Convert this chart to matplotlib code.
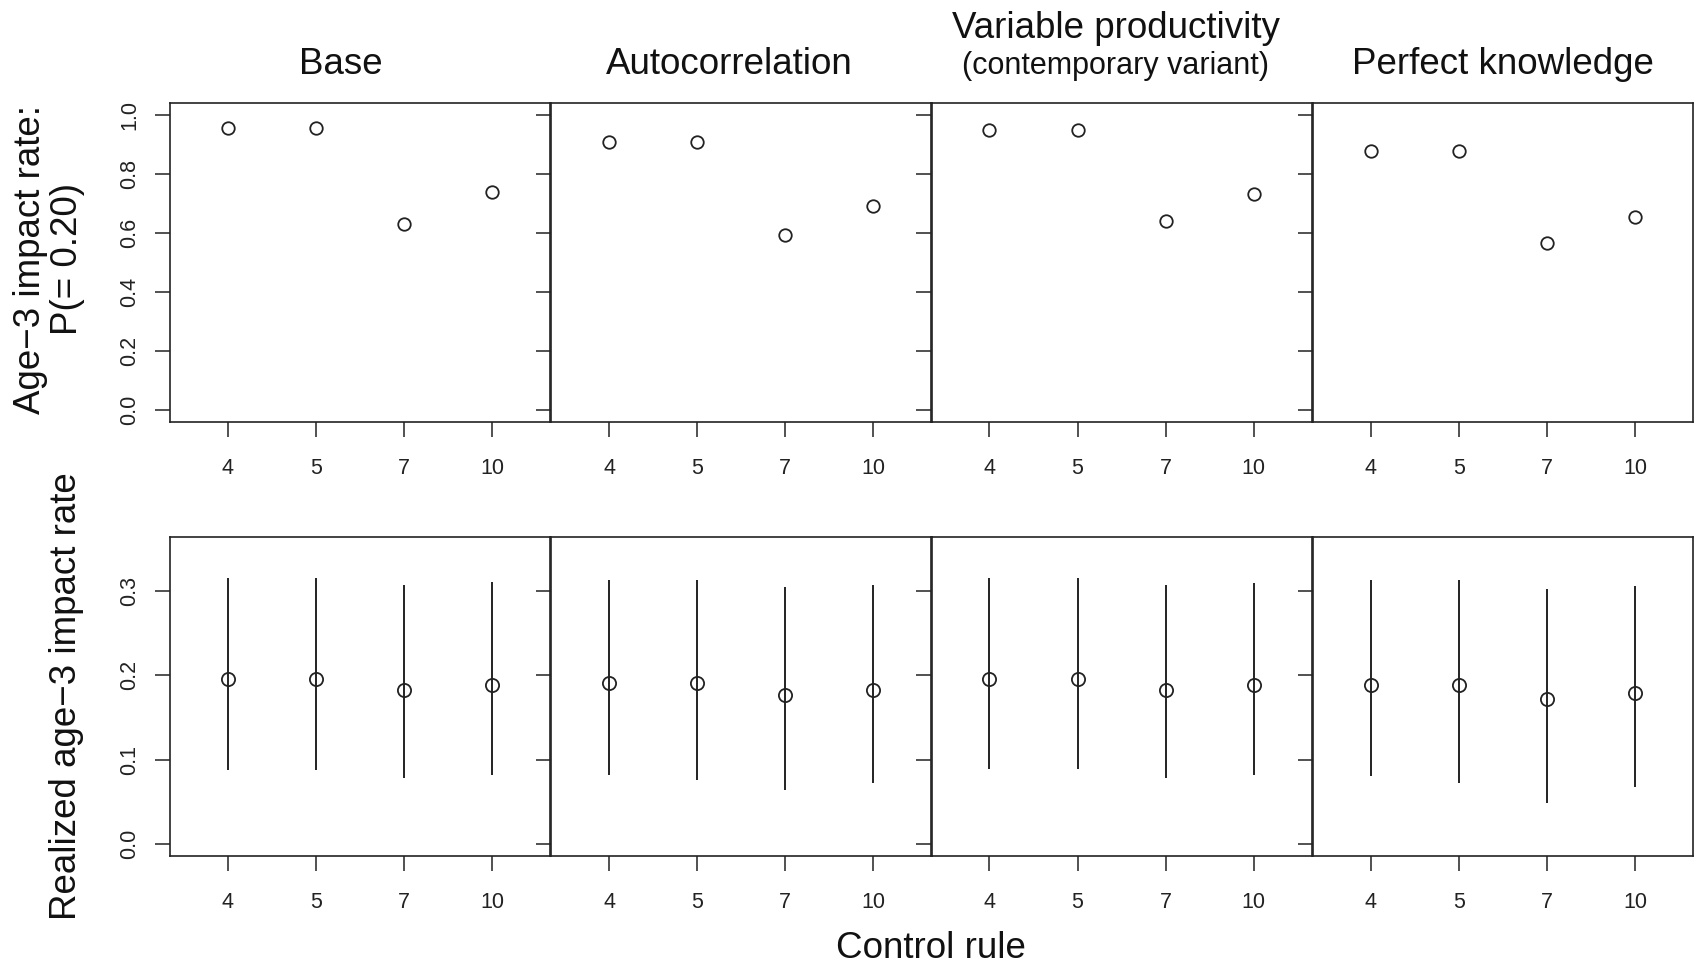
import matplotlib
matplotlib.use("Agg")
import matplotlib.pyplot as plt

plt.rcParams["font.family"] = ["Liberation Sans", "DejaVu Sans"]

# data
rules = ["4", "5", "7", "10"]
scenarios = ["Base", "Autocorrelation", "Variable productivity", "Perfect knowledge"]

# top row: P(age-3 impact rate <= 0.20)
p_ok = [
    [0.953, 0.953, 0.628, 0.738],
    [0.907, 0.907, 0.591, 0.690],
    [0.948, 0.948, 0.638, 0.732],
    [0.877, 0.877, 0.566, 0.653],
]

# bottom row: realized age-3 impact rate, median and interval
rate_mid = [
    [0.195, 0.195, 0.182, 0.188],
    [0.191, 0.191, 0.177, 0.183],
    [0.195, 0.196, 0.183, 0.188],
    [0.189, 0.189, 0.172, 0.179],
]
rate_lo = [
    [0.088, 0.088, 0.078, 0.082],
    [0.082, 0.076, 0.064, 0.072],
    [0.089, 0.089, 0.078, 0.082],
    [0.080, 0.072, 0.049, 0.068],
]
rate_hi = [
    [0.315, 0.315, 0.307, 0.311],
    [0.313, 0.313, 0.305, 0.307],
    [0.315, 0.315, 0.307, 0.310],
    [0.313, 0.313, 0.302, 0.306],
]

W, H = 1694, 968
fig = plt.figure(figsize=(W / 100, H / 100), dpi=100)

lefts = [169.6, 551.0, 931.3, 1312.7]
pw = 380.6
rows = [(102.7, 421.5), (537.0, 855.7)]
title_x = [341, 729, 1116, 1503]


def add_panel(x0, top, bot):
    return fig.add_axes([x0 / W, 1 - bot / H, pw / W, (bot - top) / H])


def style(ax, first):
    for s in ax.spines.values():
        s.set_linewidth(1.2)
        s.set_color("#222222")
    ax.set_facecolor("none")
    ax.tick_params(axis="both", direction="out", length=10.5, width=1.1,
                   color="#222222", labelsize=15.5, labelcolor="#222222")
    ax.tick_params(axis="x", pad=15.5)
    ax.tick_params(axis="y", pad=10.5, labelrotation=90)
    for lab in ax.get_yticklabels():
        lab.set_va("center")
    if not first:
        ax.tick_params(axis="y", labelleft=False)


xs = list(range(1, len(rules) + 1))

for i in range(4):
    ax = add_panel(lefts[i], *rows[0])
    ax.plot(xs, p_ok[i], "o", mfc="none", mec="#222222", ms=9, mew=1.3)
    ax.set_xlim(0.34, 4.66)
    ax.set_ylim(-0.04, 1.04)
    ax.set_xticks(xs, rules)
    ax.set_yticks([0, 0.2, 0.4, 0.6, 0.8, 1.0], ["0.0", "0.2", "0.4", "0.6", "0.8", "1.0"])
    style(ax, i == 0)

    ax = add_panel(lefts[i], *rows[1])
    ax.vlines(xs, rate_lo[i], rate_hi[i], color="#111111", lw=1.3)
    ax.plot(xs, rate_mid[i], "o", mfc="none", mec="#222222", ms=9.5, mew=1.3)
    ax.set_xlim(0.34, 4.66)
    ax.set_ylim(-0.014, 0.364)
    ax.set_xticks(xs, rules)
    ax.set_yticks([0, 0.1, 0.2, 0.3], ["0.0", "0.1", "0.2", "0.3"])
    style(ax, i == 0)


def ftext(x, y, s, **kw):
    fig.text(x / W, 1 - y / H, s, ha="center", va="center", color="#111111", **kw)


for i, name in enumerate(scenarios):
    cx = title_x[i]
    if i == 2:
        ftext(cx, 28, name, fontsize=26.5)
        ftext(cx, 66, "(contemporary variant)", fontsize=22)
    else:
        ftext(cx, 64, name, fontsize=26.5)

ftext(30, 259, "Age\u22123 impact rate:", fontsize=26.5, rotation=90)
ftext(67, 259, "P(= 0.20)", fontsize=26.5, rotation=90)
ftext(67, 696, "Realized age\u22123 impact rate", fontsize=26.5, rotation=90)
ftext(931, 948, "Control rule", fontsize=26.5)

fig.savefig("out.png", dpi=100)
